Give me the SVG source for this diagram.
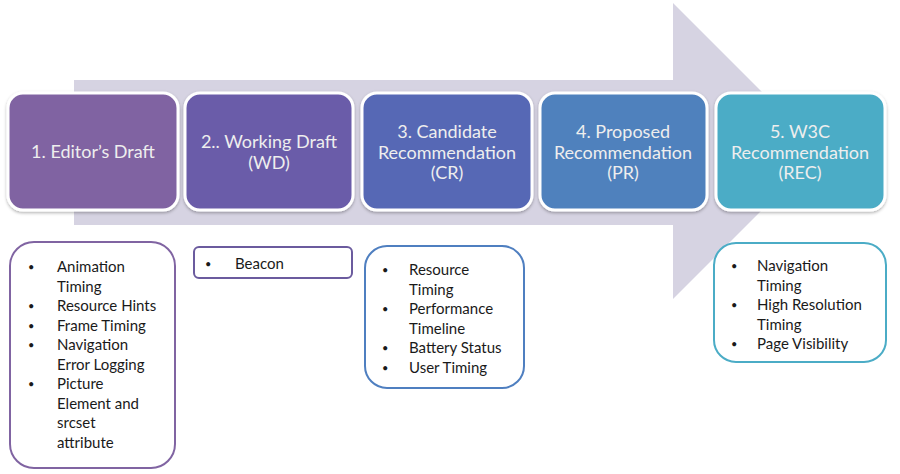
<svg xmlns="http://www.w3.org/2000/svg" width="900" height="474" viewBox="0 0 900 474">
<defs>
<filter id="sh" x="-10%" y="-10%" width="120%" height="130%">
<feDropShadow dx="0" dy="1.5" stdDeviation="1.5" flood-color="#000" flood-opacity="0.3"/>
</filter>
</defs>
<style>
.stage{stroke:#fff;stroke-width:3;filter:url(#sh)}
.st{font-family:Lato,"Liberation Sans",sans-serif;font-size:18px;fill:#eeeeee;text-anchor:middle}
.lst{fill:#fff;stroke-width:2}
.it{font-family:Lato,"Liberation Sans",sans-serif;font-size:15px;fill:#1a1a1a}
.b{font-size:11px}
</style>
<rect width="900" height="474" fill="#fff"/>
<g id="connectors">
<path d="M74,80 H673 V3 L821,151 L673,299 V225 H74 Z" fill="#d6d3e2"/>
</g>
<g id="stage1">
<rect class="stage" x="8" y="93" width="170" height="117" rx="15" fill="#8064a2"/>
<text class="st" x="93" y="158">1. Editor’s Draft</text>
</g>
<g id="stage2">
<rect class="stage" x="185" y="93" width="168" height="117" rx="15" fill="#6a5ba9"/>
<text class="st" x="269" y="148">2.. Working Draft</text>
<text class="st" x="269" y="169">(WD)</text>
</g>
<g id="stage3">
<rect class="stage" x="362" y="93" width="170" height="117" rx="15" fill="#5767b5"/>
<text class="st" x="447" y="138">3. Candidate</text>
<text class="st" x="447" y="159">Recommendation</text>
<text class="st" x="447" y="179">(CR)</text>
</g>
<g id="stage4">
<rect class="stage" x="540" y="93" width="167" height="117" rx="15" fill="#4f81bd"/>
<text class="st" x="623" y="138">4. Proposed</text>
<text class="st" x="623" y="159">Recommendation</text>
<text class="st" x="623" y="179">(PR)</text>
</g>
<g id="stage5">
<rect class="stage" x="716" y="93" width="169" height="117" rx="15" fill="#4bacc6"/>
<text class="st" x="800" y="138">5. W3C</text>
<text class="st" x="800" y="159">Recommendation</text>
<text class="st" x="800" y="179">(REC)</text>
</g>
<g id="list1">
<rect class="lst" x="10" y="242" width="165" height="226" rx="24" stroke="#8064a2"/>
<g class="it">
<text class="b" x="28" y="271">•</text><text x="57" y="272">Animation</text>
<text x="57" y="291.5">Timing</text>
<text class="b" x="28" y="310">•</text><text x="57" y="311">Resource Hints</text>
<text class="b" x="28" y="329.5">•</text><text x="57" y="330.5">Frame Timing</text>
<text class="b" x="28" y="349">•</text><text x="57" y="350">Navigation</text>
<text x="57" y="369.5">Error Logging</text>
<text class="b" x="28" y="388">•</text><text x="57" y="389">Picture</text>
<text x="57" y="408.5">Element and</text>
<text x="57" y="428">srcset</text>
<text x="57" y="447.5">attribute</text>
</g>
</g>
<g id="list2">
<rect class="lst" x="194" y="247" width="158" height="31" rx="5" stroke="#6b5b9e"/>
<g class="it">
<text class="b" x="205" y="268">•</text><text x="235" y="269">Beacon</text>
</g>
</g>
<g id="list3">
<rect class="lst" x="365" y="246" width="159" height="142" rx="22" stroke="#4f7fc0"/>
<g class="it">
<text class="b" x="382" y="274">•</text><text x="409" y="275">Resource</text>
<text x="409" y="294.5">Timing</text>
<text class="b" x="382" y="313">•</text><text x="409" y="314">Performance</text>
<text x="409" y="333.5">Timeline</text>
<text class="b" x="382" y="352">•</text><text x="409" y="353">Battery Status</text>
<text class="b" x="382" y="371.5">•</text><text x="409" y="372.5">User Timing</text>
</g>
</g>
<g id="list5">
<rect class="lst" x="714" y="243" width="172" height="119" rx="22" stroke="#4bacc6"/>
<g class="it">
<text class="b" x="731" y="270">•</text><text x="757" y="271">Navigation</text>
<text x="757" y="290.5">Timing</text>
<text class="b" x="731" y="309">•</text><text x="757" y="310">High Resolution</text>
<text x="757" y="329.5">Timing</text>
<text class="b" x="731" y="348">•</text><text x="757" y="349">Page Visibility</text>
</g>
</g>
</svg>
